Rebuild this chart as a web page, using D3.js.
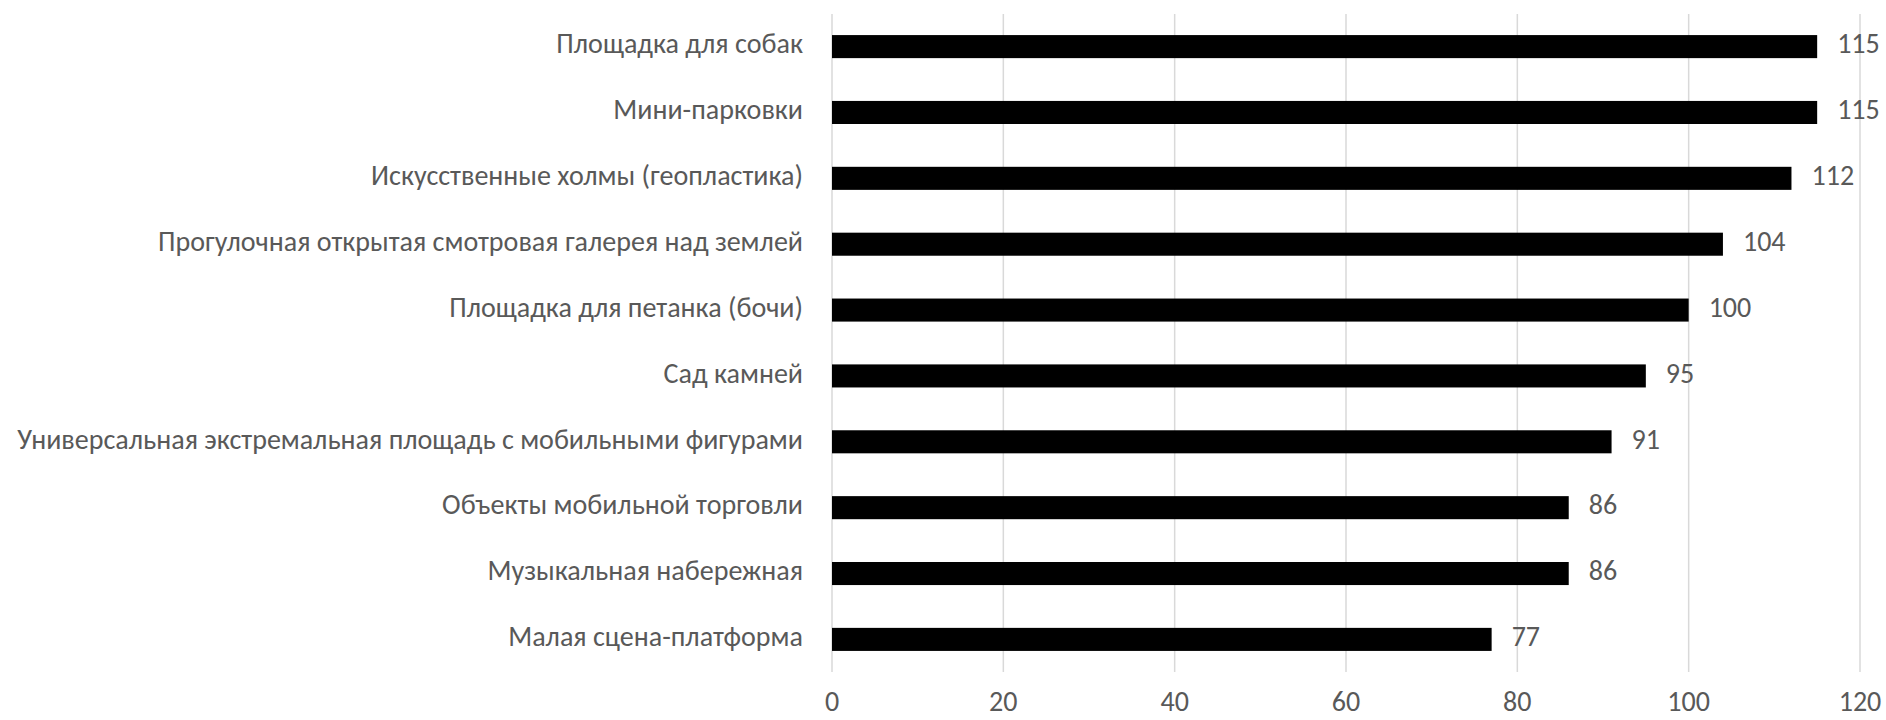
<!DOCTYPE html>
<html>
<head>
<meta charset="utf-8">
<script src="https://cdn.jsdelivr.net/npm/d3@7"></script>
<style>
  body { margin: 0; background: #fff; }
  text { font-family: Carlito, "Open Sans", sans-serif; fill: #595959; }
</style>
</head>
<body>
<div id="chart"></div>
<script>
// categories, top to bottom
var categories = [
    "Площадка для собак ",
    "Мини-парковки ",
    "Искусственные холмы (геопластика)",
    "Прогулочная открытая смотровая галерея над землей",
    "Площадка для петанка (бочи)",
    "Сад камней ",
    "Универсальная экстремальная площадь с мобильными фигурами",
    "Объекты мобильной торговли ",
    "Музыкальная набережная",
    "Малая сцена-платформа"
];
var values = [115, 115, 112, 104, 100, 95, 91, 86, 86, 77];
var ticks = [0, 20, 40, 60, 80, 100, 120];

var width = 1886, height = 720;
var margin = {top: 14, right: 26, bottom: 48, left: 832};

var svg = d3.select("#chart").append("svg")
    .attr("width", width)
    .attr("height", height);

var xScale = d3.scaleLinear()
    .domain([0, 120])
    .range([margin.left, width - margin.right]);

var yScale = d3.scaleBand()
    .domain(categories)
    .range([margin.top, height - margin.bottom])
    .paddingInner(0.65)
    .paddingOuter(0.32);

// fit label font so the longest label is about as wide as in the picture
var probe = svg.append("text").attr("font-size", 24)
    .text(categories[6]);
var fontSize = 24 * 786 / probe.node().getComputedTextLength();
probe.remove();

// gridlines
svg.append("g").selectAll("line")
    .data(ticks)
    .enter()
    .append("line")
    .attr("x1", function(d) { return xScale(d); })
    .attr("x2", function(d) { return xScale(d); })
    .attr("y1", margin.top)
    .attr("y2", height - margin.bottom)
    .attr("stroke", "#d9d9d9")
    .attr("stroke-width", 1.5);

// x tick labels
svg.append("g").selectAll("text")
    .data(ticks)
    .enter()
    .append("text")
    .attr("x", function(d) { return xScale(d); })
    .attr("y", 711)
    .attr("text-anchor", "middle")
    .attr("font-size", fontSize)
    .text(function(d) { return d; });

// bars
svg.append("g").selectAll("rect")
    .data(values)
    .enter()
    .append("rect")
    .attr("x", xScale(0))
    .attr("y", function(d, i) { return yScale(categories[i]); })
    .attr("width", function(d) { return xScale(d) - xScale(0); })
    .attr("height", yScale.bandwidth())
    .attr("fill", "#000");

// category labels
svg.append("g").selectAll("text")
    .data(categories)
    .enter()
    .append("text")
    .attr("x", xScale(0) - 29)
    .attr("y", function(d) { return yScale(d) + yScale.bandwidth() / 2; })
    .attr("text-anchor", "end")
    .attr("dominant-baseline", "middle")
    .attr("font-size", fontSize)
    .text(function(d) { return d.trim(); });

// value labels
svg.append("g").selectAll("text")
    .data(values)
    .enter()
    .append("text")
    .attr("x", function(d) { return xScale(d) + 20; })
    .attr("y", function(d, i) { return yScale(categories[i]) + yScale.bandwidth() / 2; })
    .attr("dominant-baseline", "middle")
    .attr("font-size", fontSize)
    .text(function(d) { return d; });
</script>
</body>
</html>
